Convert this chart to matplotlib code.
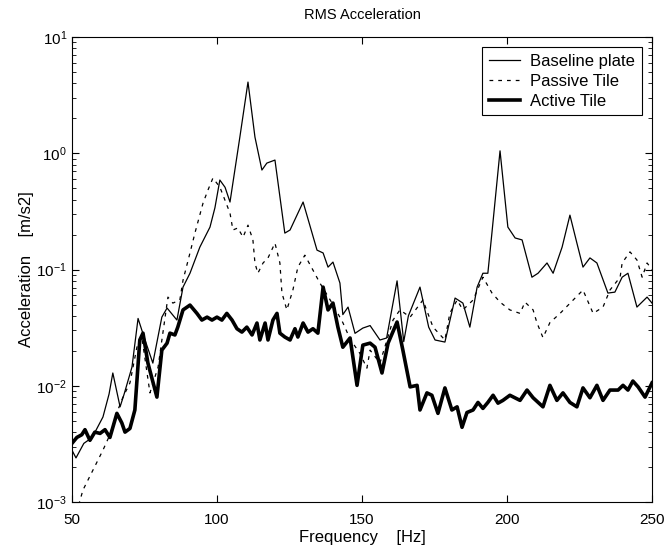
import matplotlib
matplotlib.use("Agg")
import matplotlib.pyplot as plt
from matplotlib.ticker import LogLocator, NullFormatter

plt.rcParams['font.family'] = ['Liberation Sans', 'DejaVu Sans']
plt.rcParams['mathtext.fontset'] = 'custom'
plt.rcParams['mathtext.rm'] = 'Liberation Sans'
plt.rcParams['mathtext.it'] = 'Liberation Sans'

# (Hz, m/s2)
base_f = [50, 51.4, 54.1, 57, 60.7, 62.8, 64.1, 66.6, 68, 70.7, 72.8, 75.2, 77.9,
          81, 82.8, 86.2, 88.3, 90.7, 94.1, 97.6, 99.3, 101, 102.8, 104.5, 107.9,
          110.7, 113.1, 115.5, 117.2, 120, 123.4, 125.2, 129.7, 134.5, 136.6, 138.3,
          140, 142.4, 143.4, 145.2, 147.6, 150.3, 152.8, 156.2, 158.5, 162.1, 164.4,
          166, 170, 173, 175.2, 178.6, 182.1, 184.8, 187.2, 189.7, 191.7, 193.4,
          194.8, 197.6, 200.3, 202.8, 205.2, 208.6, 210.7, 213.8, 215.9, 219, 221.7,
          224.1, 226.2, 228.6, 231, 234.8, 237.2, 239.7, 241.7, 244.8, 248.3, 250]
base_a = [0.0028, 0.0024, 0.0032, 0.0036, 0.0054, 0.0085, 0.0129, 0.0066, 0.0085,
          0.0145, 0.038, 0.0248, 0.0157, 0.039, 0.0467, 0.0368, 0.0707, 0.093,
          0.156, 0.232, 0.34, 0.589, 0.51, 0.381, 1.38, 4.1, 1.38, 0.718, 0.824,
          0.875, 0.206, 0.219, 0.381, 0.147, 0.139, 0.105, 0.116, 0.0766, 0.041,
          0.0476, 0.0283, 0.0314, 0.033, 0.0248, 0.0258, 0.08, 0.024, 0.04, 0.0707,
          0.032, 0.0248, 0.0238, 0.0569, 0.0515, 0.032, 0.0707, 0.093, 0.093, 0.206,
          1.05, 0.232, 0.187, 0.18, 0.086, 0.093, 0.114, 0.093, 0.156, 0.294, 0.169,
          0.105, 0.126, 0.114, 0.0628, 0.064, 0.086, 0.093, 0.0476, 0.058, 0.0515]

pas_f = [51.5, 53.8, 60.7, 63.1, 65.5, 67.6, 70, 72.4, 74.1, 76.9, 79.7, 83.1,
         84.8, 87.2, 88.3, 90.7, 92.4, 95.2, 96.9, 98.6, 101, 104.5, 105.5, 107.2,
         109, 110.7, 112.4, 113.1, 114.1, 115.9, 117.6, 120, 121.7, 122.4, 124.1,
         126.2, 127.9, 130.3, 133.1, 135.5, 140, 143.4, 146, 149.3, 151.7, 152.8,
         156.2, 160.7, 163.1, 166.6, 171, 174.5, 178.6, 180.3, 182.8, 184.8, 188.3,
         191.7, 194.8, 197.6, 201, 204.5, 206.2, 209, 210.3, 212.4, 214.8, 218.3,
         222.8, 226.2, 229.7, 233.1, 235.5, 239, 239.7, 242.4, 244.8, 246.6, 248.3, 250]
pas_a = [0.0008, 0.00127, 0.0028, 0.0038, 0.0059, 0.008, 0.0106, 0.0215, 0.0263,
         0.0087, 0.0145, 0.058, 0.0515, 0.0547, 0.081, 0.139, 0.206, 0.373, 0.483,
         0.612, 0.513, 0.306, 0.219, 0.228, 0.19, 0.241, 0.18, 0.114, 0.093, 0.114,
         0.126, 0.169, 0.114, 0.063, 0.045, 0.067, 0.105, 0.133, 0.099, 0.0766,
         0.05, 0.035, 0.025, 0.019, 0.0142, 0.0203, 0.0157, 0.0368, 0.045, 0.039,
         0.0547, 0.032, 0.0248, 0.0422, 0.0547, 0.045, 0.0547, 0.086, 0.063, 0.0525,
         0.045, 0.042, 0.0525, 0.045, 0.035, 0.026, 0.035, 0.042, 0.0547, 0.0667,
         0.042, 0.0476, 0.0667, 0.086, 0.114, 0.142, 0.121, 0.086, 0.114, 0.1]

act_f = [50, 51.7, 53.4, 54.5, 56.2, 57.9, 59.7, 61.4, 63.1, 65.5, 67.2, 68.3, 70,
         71.7, 73.4, 74.5, 76.2, 79.3, 81, 82.8, 83.8, 85.5, 86.5, 88.3, 90.7, 93.1,
         94.8, 96.6, 98.3, 100, 101.7, 103.4, 105.2, 106.9, 108.6, 110.3, 112.1,
         113.8, 114.8, 116.6, 117.6, 119.3, 120.7, 121.7, 123.4, 125.2, 126.9, 127.9,
         129.7, 131.4, 133.1, 134.8, 136.6, 138.3, 140, 141.7, 143.4, 145.9, 148.3,
         150.3, 152.8, 154.5, 156.9, 159, 162.1, 164.1, 166.6, 169, 170, 172.4,
         174.1, 176.2, 178.6, 181, 182.8, 184.5, 186.2, 188.3, 190, 191.7, 193.4,
         195.2, 196.9, 198.6, 201, 204.5, 206.9, 209, 212.4, 214.8, 217.2, 219.3,
         221.7, 224.1, 226.2, 228.6, 231, 233.1, 235.5, 238.3, 240, 241.7, 243.4,
         245.2, 247.6, 250]
act_a = [0.0032, 0.0036, 0.0038, 0.0042, 0.0034, 0.004, 0.0039, 0.0042, 0.0036,
         0.0058, 0.0048, 0.004, 0.0043, 0.0062, 0.0248, 0.0284, 0.0157, 0.008,
         0.0203, 0.0233, 0.0284, 0.0274, 0.032, 0.045, 0.0495, 0.042, 0.0368,
         0.039, 0.0368, 0.039, 0.0368, 0.042, 0.0368, 0.031, 0.029, 0.032, 0.0274,
         0.0347, 0.0248, 0.0347, 0.0248, 0.0368, 0.042, 0.0284, 0.0263, 0.0248,
         0.031, 0.0263, 0.0347, 0.029, 0.031, 0.0284, 0.0707, 0.045, 0.0515, 0.032,
         0.0215, 0.0258, 0.0101, 0.0224, 0.0233, 0.0215, 0.0129, 0.0233, 0.0354,
         0.0203, 0.0098, 0.0101, 0.0062, 0.0087, 0.0083, 0.0058, 0.0096, 0.0062,
         0.0066, 0.0044, 0.0059, 0.0062, 0.0072, 0.0064, 0.0072, 0.0083, 0.0071,
         0.0075, 0.0083, 0.0075, 0.0092, 0.0079, 0.0066, 0.0101, 0.0075, 0.0087,
         0.0072, 0.0066, 0.0096, 0.0079, 0.0101, 0.0075, 0.0092, 0.0092, 0.0101,
         0.0092, 0.011, 0.0098, 0.008, 0.0106]

fig = plt.figure(figsize=(6.66, 5.53), dpi=100)
ax = fig.add_axes([0.108, 0.092, 0.871, 0.841])

ax.semilogy(base_f, base_a, color='black', lw=0.9, label='Baseline plate')
ax.semilogy(pas_f, pas_a, color='black', lw=0.9, ls=(0, (3, 4)), label='Passive Tile')
ax.semilogy(act_f, act_a, color='black', lw=2.6, label='Active Tile')

ax.set_xlim(50, 250)
ax.set_ylim(1e-3, 10)
ax.set_xticks([50, 100, 150, 200, 250])
ax.yaxis.set_major_locator(LogLocator(base=10, numticks=10))
ax.yaxis.set_minor_locator(LogLocator(base=10, subs=range(2, 10), numticks=10))
ax.yaxis.set_minor_formatter(NullFormatter())
ax.tick_params(which='both', direction='in', top=True, right=True, labelsize=11)
ax.tick_params(which='major', length=5, width=0.8)
ax.tick_params(which='minor', length=3, width=0.6)
ax.tick_params(axis='x', pad=8)

ax.set_title('RMS Acceleration', fontsize=10.5, pad=13)
ax.set_xlabel('Frequency    [Hz]', fontsize=12, labelpad=2)
ax.set_ylabel('Acceleration    [m/s2]', fontsize=12, labelpad=2)

leg = ax.legend(loc='upper right', fontsize=12, fancybox=False, framealpha=1,
                edgecolor='black', handlelength=1.9, handletextpad=0.6,
                borderaxespad=0.6, labelspacing=0.3, borderpad=0.4)
leg.get_frame().set_linewidth(0.8)

plt.savefig('out.png', dpi=100)
